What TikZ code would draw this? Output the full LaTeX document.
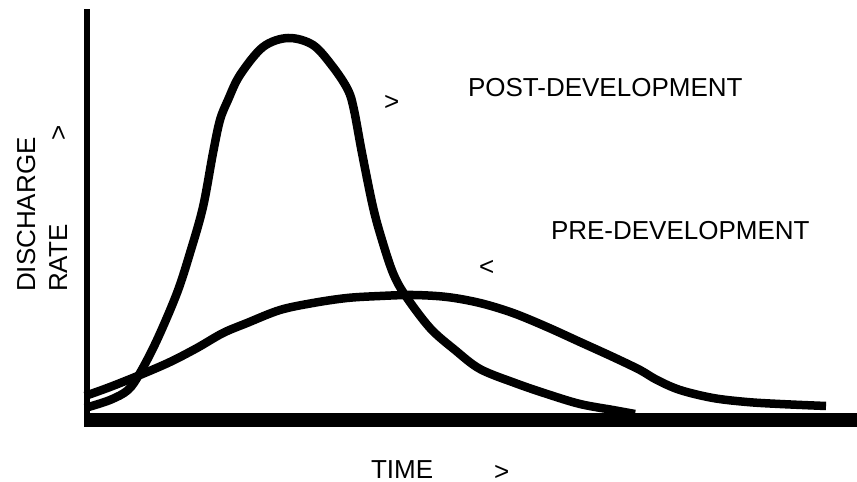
\documentclass[tikz,border=0pt]{standalone}
\usepackage{fontspec}
\setmainfont{Liberation Sans}
\begin{document}
\begin{tikzpicture}[x=1bp,y=-1bp,
  lbl/.style={inner sep=0pt, outer sep=0pt, font=\fontsize{26bp}{30bp}\selectfont, anchor=base west},
  curve/.style={line width=8.5bp, line join=round}]
\useasboundingbox (0,0) rectangle (857,482);
% axes
\fill (84,9) rectangle (90,427);
\fill (84,413) rectangle (857,427);
% post-development hydrograph
\draw[curve] plot[smooth,tension=0.55] coordinates {
 (85,408) (110,400) (128,390) (140,373) (157,340) (177,293) (190,253)
 (203,207) (213,153) (220,120) (228,100) (240,75) (263,47) (288,38) (313,45)
 (333,67) (348,90) (354,110) (362,153) (373,207) (382,240) (393,273)
 (405,295) (430,328) (455,350) (480,369) (515,383) (547,394) (580,404)
 (613,410) (635,414)};
% pre-development hydrograph
\draw[curve] plot[smooth,tension=0.55] coordinates {
 (85,396) (110,387) (140,375) (170,362) (197,348) (223,333) (247,323)
 (280,310) (313,303) (347,298) (380,296) (413,295) (447,297) (480,303)
 (513,313) (547,327) (580,342) (613,357) (640,370) (657,380) (680,390)
 (713,398) (747,402) (780,404) (826,406)};
% labels
\node[lbl] (post) at (468,97) {POST-DEVELOPMENT};
\node[lbl] (postarr) at (384,111) {>};
\node[lbl] (pre) at (551,240) {PRE-DEVELOPMENT};
\node[lbl] (prearr) at (479,276) {<};
\node[lbl] (time) at (371,478.5) {TIME};
\node[lbl] (timearr) at (494,480) {>};
\node[lbl, rotate=90] (discharge) at (35,292) {DISCHARGE};
\node[lbl, rotate=90] (rate) at (67,292) {RATE\hspace*{84.2bp}>};
\end{tikzpicture}
\end{document}
